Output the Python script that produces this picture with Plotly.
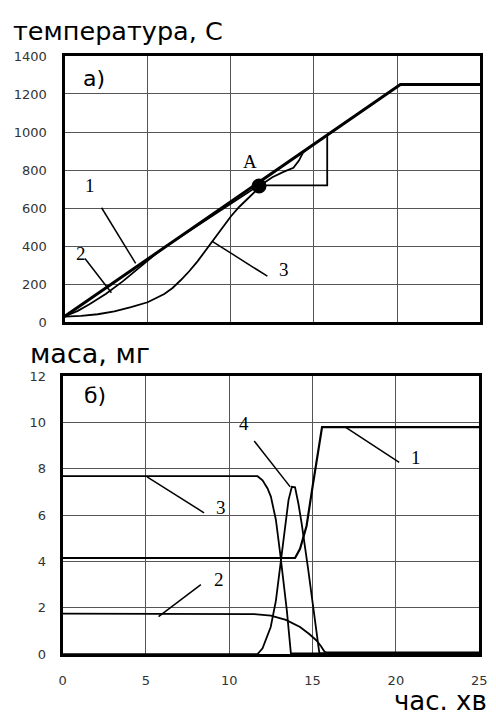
import plotly.graph_objects as go

# ---------- top panel (temperature, C) ----------
top_l1_x = [0, 20.2, 25]
top_l1_y = [30, 1250, 1250]

top_l2_x = [0, 0.8, 1.5, 2.5, 3.5, 4.5, 5.5, 6.2, 11.7, 15.8, 15.8]
top_l2_y = [30, 60, 95, 150, 215, 290, 360, 405, 720, 720, 984]

top_l3_x = [0, 1, 2, 3, 4, 5, 6, 6.5, 7, 7.5, 8, 8.5, 9, 9.5, 10, 10.5, 11, 11.5, 11.7,
            12.5, 13.2, 13.77, 14.1, 14.36, 14.7]
top_l3_y = [30, 33, 42, 57, 79, 105, 148, 180, 222, 268, 320, 378, 436, 498, 556, 606, 650, 690, 715,
            762, 792, 812, 850, 894, 918]

point_a_x = [11.7]
point_a_y = [716]

top_yticks = [0, 200, 400, 600, 800, 1000, 1200, 1400]

# ---------- bottom panel (mass, mg) ----------
bot_l1_x = [0, 13.95, 14.25, 14.64, 15.03, 15.3, 15.57, 25]
bot_l1_y = [4.15, 4.15, 4.55, 5.53, 7.36, 8.6, 9.8, 9.8]

bot_l2_x = [0, 10.5, 11.5, 12.5, 13.4, 14.25, 14.8, 15.22, 15.5, 15.71, 15.85, 25]
bot_l2_y = [1.75, 1.75, 1.73, 1.66, 1.48, 1.17, 0.87, 0.6, 0.35, 0.11, 0.07, 0.07]

bot_l3_x = [0, 11.7, 12.0, 12.3, 12.5, 12.8, 13.07, 13.3, 13.46, 13.7, 25]
bot_l3_y = [7.68, 7.68, 7.5, 7.15, 6.8, 5.8, 4.27, 2.9, 1.87, 0.03, 0.03]

bot_l4_x = [0, 11.7, 12.0, 12.49, 12.8, 13.07, 13.3, 13.56, 13.76, 13.95, 14.15, 14.34, 14.73, 15.12, 15.41, 25]
bot_l4_y = [0, 0, 0.25, 1.17, 2.3, 3.84, 5.2, 6.66, 7.22, 7.2, 6.5, 5.67, 3.7, 1.45, 0.03, 0.03]

bot_xticks = [0, 5, 10, 15, 20, 25]
bot_yticks = [0, 2, 4, 6, 8, 10, 12]

fig = go.Figure()

def line(x, y, xa, ya, w=1.8):
    fig.add_trace(go.Scatter(x=x, y=y, mode="lines", xaxis=xa, yaxis=ya,
                             line=dict(color="black", width=w), showlegend=False,
                             hoverinfo="skip"))

line(top_l3_x, top_l3_y, "x", "y")
line(top_l2_x, top_l2_y, "x", "y")
line(top_l1_x, top_l1_y, "x", "y", 3)
fig.add_trace(go.Scatter(x=point_a_x, y=point_a_y, mode="markers", xaxis="x", yaxis="y",
                         marker=dict(color="black", size=15), showlegend=False,
                         hoverinfo="skip"))

line(bot_l2_x, bot_l2_y, "x2", "y2")
line(bot_l3_x, bot_l3_y, "x2", "y2")
line(bot_l4_x, bot_l4_y, "x2", "y2")
line(bot_l1_x, bot_l1_y, "x2", "y2", 2.2)

W, H = 496, 715
grid = "#555555"
tickfont = dict(family="DejaVu Sans", size=13, color="#333333")

def ax(domain, rng, **kw):
    d = dict(domain=domain, range=rng, showline=True, mirror=True, linewidth=3,
             linecolor="black", showgrid=True, gridcolor=grid, gridwidth=1,
             zeroline=False, ticks="", tickfont=tickfont, fixedrange=True)
    d.update(kw)
    return d

x_top = [62 / W, 488 / W]
y_top = [1 - 322 / H, 1 - 50 / H]
x_bot = [60 / W, 487 / W]
y_bot = [1 - 661 / H, 1 - 377 / H]

fig.update_layout(
    width=W, height=H, autosize=False,
    margin=dict(l=0, r=0, t=0, b=0),
    paper_bgcolor="white", plot_bgcolor="white",
    xaxis=ax(x_top, [0, 25], tickvals=bot_xticks, showticklabels=False, anchor="y"),
    yaxis=ax(y_top, [0, 1400], tickvals=top_yticks, anchor="x", ticklabelstandoff=12),
    xaxis2=ax(x_bot, [0, 25], tickvals=bot_xticks, anchor="y2", ticklabelstandoff=12),
    yaxis2=ax(y_bot, [0, 12], tickvals=bot_yticks, anchor="x2", ticklabelstandoff=11),
)

serif = dict(family="Liberation Serif", size=19, color="black")
sans_big = dict(family="DejaVu Sans", size=26, color="black")
sans_lbl = dict(family="DejaVu Sans", size=22, color="black")

anns = [
    dict(x=7 / W, y=1 - 25 / H, xref="paper", yref="paper", text="температура, С",
         xanchor="left", yanchor="middle", showarrow=False,
         font=dict(family="DejaVu Sans", size=25.5, color="black")),
    dict(x=25 / W, y=1 - 354 / H, xref="paper", yref="paper", text="маса, мг",
         xanchor="left", yanchor="middle", showarrow=False,
         font=dict(family="DejaVu Sans", size=27, color="black")),
    dict(x=497 / W, y=1 - 709 / H, xref="paper", yref="paper", text="час. хв",
         xanchor="right", yanchor="middle", showarrow=False, font=sans_big),
    dict(x=1.8, y=1282, xref="x", yref="y", text="а)", showarrow=False, font=sans_lbl),
    dict(x=1.53, y=721, xref="x", yref="y", text="1", showarrow=False, font=serif),
    dict(x=1.0, y=360, xref="x", yref="y", text="2", showarrow=False, font=serif),
    dict(x=13.2, y=278, xref="x", yref="y", text="3", showarrow=False, font=serif),
    dict(x=11.15, y=845, xref="x", yref="y", text="A", showarrow=False, font=serif),
    dict(x=1.93, y=11.17, xref="x2", yref="y2", text="б)", showarrow=False, font=sans_lbl),
    dict(x=10.9, y=9.97, xref="x2", yref="y2", text="4", showarrow=False, font=serif),
    dict(x=21.2, y=8.5, xref="x2", yref="y2", text="1", showarrow=False, font=serif),
    dict(x=9.5, y=6.35, xref="x2", yref="y2", text="3", showarrow=False, font=serif),
    dict(x=9.37, y=3.21, xref="x2", yref="y2", text="2", showarrow=False, font=serif),
]
fig.update_layout(annotations=anns)

leaders = [
    ("x", "y", 2.23, 602, 4.28, 309),
    ("x", "y", 1.23, 335, 2.82, 155),
    ("x", "y", 8.86, 427, 12.2, 242),
    ("x2", "y2", 11.5, 9.2, 13.66, 7.22),
    ("x2", "y2", 16.9, 9.83, 20.2, 8.28),
    ("x2", "y2", 5.07, 7.65, 8.49, 6.1),
    ("x2", "y2", 8.3, 3.0, 5.76, 1.62),
]
fig.update_layout(shapes=[
    dict(type="line", xref=xr, yref=yr, x0=a, y0=b, x1=c, y1=d,
         line=dict(color="black", width=1.5))
    for xr, yr, a, b, c, d in leaders
])

page_fix = (
    "document.documentElement.style.margin='0';"
    "document.documentElement.style.padding='0';"
    "document.documentElement.style.overflow='hidden';"
    "document.body.style.margin='0';"
    "document.body.style.padding='0';"
    "document.body.style.overflow='hidden';"
    "var d=document.querySelector('.plotly-graph-div');"
    "d.style.position='fixed';d.style.left='0px';d.style.top='0px';"
)

fig.write_html("out.html", config={"displayModeBar": False}, post_script=page_fix)
